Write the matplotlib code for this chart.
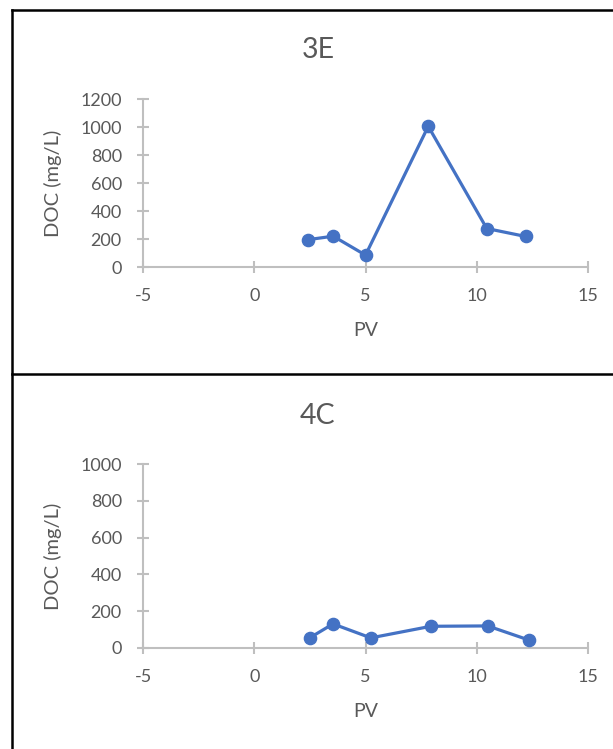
import matplotlib
matplotlib.use('Agg')
import matplotlib.pyplot as plt
from matplotlib.lines import Line2D

plt.rcParams['font.family'] = ['Lato', 'DejaVu Sans']
plt.rcParams['axes.unicode_minus'] = False

W, H = 613, 749

# DOC by pore volume for the two columns
pv_3e  = [2.4, 3.55, 5.0, 7.82, 10.45, 12.2]
doc_3e = [195, 220, 85, 1005, 275, 218]

pv_4c  = [2.49, 3.54, 5.24, 7.94, 10.49, 12.35]
doc_4c = [55, 131, 55, 118, 120, 43]

XTICKS = [-5, 0, 5, 10, 15]
BLUE   = '#4472C4'
GRID   = '#BFBFBF'
TXT    = '#595959'

panels = [
    # name, x, y, ymax, axes rect (px: left, top, right, bottom), title y px
    ('3E', pv_3e, doc_3e, 1200, (143, 99, 588, 267), 49.5),
    ('4C', pv_4c, doc_4c, 1000, (143, 464, 588, 648), 415.5),
]

fig = plt.figure(figsize=(W / 100, H / 100), dpi=100)

for name, xs, ys, ymax, (l, t, r, b), ty in panels:
    ax = fig.add_axes([l / W, 1 - b / H, (r - l) / W, (b - t) / H])
    ax.plot(xs, ys, color=BLUE, lw=2.3, marker='o', ms=8.8, zorder=3,
            clip_on=False)
    ax.set_xlim(-5, 15)
    ax.set_ylim(0, ymax)
    ax.set_xticks(XTICKS)
    ax.set_yticks(range(0, ymax + 1, 200))
    for s in ['top', 'right']:
        ax.spines[s].set_visible(False)
    for s in ['left', 'bottom']:
        ax.spines[s].set_color(GRID)
        ax.spines[s].set_linewidth(1.5)
    ax.tick_params(direction='inout', length=8.6, width=1.5, color=GRID,
                   labelcolor=TXT, labelsize=13, pad=11)
    ax.set_xlabel('PV', fontsize=14, color=TXT, va='center')
    ax.set_ylabel('DOC (mg/L)', fontsize=14.5, color=TXT, va='center')
    ax.xaxis.set_label_coords(0.5, -63.5 / (b - t))
    ax.yaxis.set_label_coords((53 - l) / (r - l), 0.5)
    fig.text(318 / W, 1 - ty / H, name, ha='center', va='center',
             fontsize=20.5, color=TXT)

# panel frames
for seg in [([11.5, 11.5], [10, H]), ([11.5, W], [10, 10]),
            ([11.5, W], [374, 374])]:
    fig.add_artist(Line2D([x / W for x in seg[0]], [1 - y / H for y in seg[1]],
                          color='black', lw=1.8))

plt.savefig('out.png', dpi=100)
